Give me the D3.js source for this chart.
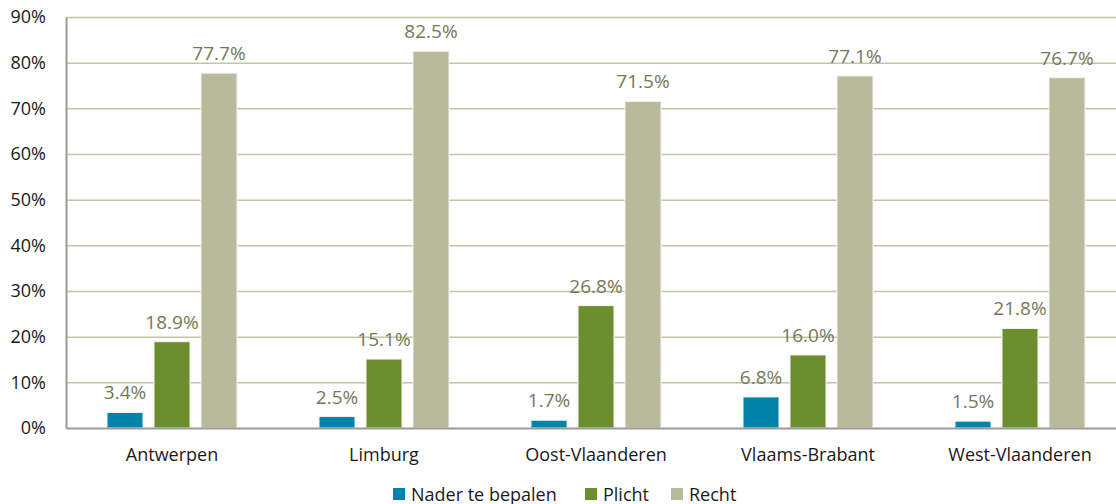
<!DOCTYPE html>
<html>
<head>
<meta charset="utf-8">
<script src="https://cdn.jsdelivr.net/npm/d3@7"></script>
<style>
  body { margin: 0; background: #fff; }
  text { font-family: "Open Sans", sans-serif; }
</style>
</head>
<body>
<script>
let width = 1116, height = 504;

// data
let categories = ["Antwerpen", "Limburg", "Oost-Vlaanderen", "Vlaams-Brabant", "West-Vlaanderen"];
let seriesNames = ["Nader te bepalen", "Plicht", "Recht"];
let naderValues = [3.4, 2.5, 1.7, 6.8, 1.5];
let plichtValues = [18.9, 15.1, 26.8, 16.0, 21.8];
let rechtValues = [77.7, 82.5, 71.5, 77.1, 76.7];
let yTicks = [0, 10, 20, 30, 40, 50, 60, 70, 80, 90];

let colors = ["#0083ab", "#6b8f2f", "#b9b99b"];
let seriesValues = [naderValues, plichtValues, rechtValues];

let rows = categories.map(function(c, i) {
  return {
    cat: c,
    vals: seriesNames.map(function(s, j) { return { key: s, idx: j, value: seriesValues[j][i] }; })
  };
});

let margin = { left: 66, top: 17, bottom: 76 };
let plotRight = 1126; // plot area runs past the picture's right edge

let svg = d3.select("body").append("svg")
    .attr("width", width)
    .attr("height", height);

let x0 = d3.scaleBand()
    .domain(categories)
    .range([margin.left, plotRight]);

let x1 = d3.scaleBand()
    .domain(seriesNames)
    .range([-65, 65])
    .paddingInner(11 / 47);

let y = d3.scaleLinear()
    .domain([0, 90])
    .range([height - margin.bottom, margin.top]);

// gridlines
svg.append("g")
  .selectAll("line")
  .data(yTicks.filter(function(d) { return d > 0; }))
  .enter().append("line")
    .attr("x1", margin.left)
    .attr("x2", plotRight)
    .attr("y1", function(d) { return y(d) + 0.5; })
    .attr("y2", function(d) { return y(d) + 0.5; })
    .attr("stroke", "#c4c4a6")
    .attr("stroke-width", 1.5);

// y axis
let yAxis = svg.append("g")
    .attr("transform", "translate(" + margin.left + ",0)")
    .call(d3.axisLeft(y).tickValues(yTicks).tickSize(0).tickPadding(20)
      .tickFormat(function(d) { return d + "%"; }));
yAxis.select(".domain").attr("stroke", "#9a9a9a").attr("stroke-width", 2);
yAxis.selectAll("text").attr("font-size", 18).attr("fill", "#1a1a1a")
    .attr("font-family", "Open Sans, sans-serif");

// bars
let groups = svg.append("g")
  .selectAll("g")
  .data(rows)
  .enter().append("g")
    .attr("transform", function(d) { return "translate(" + (x0(d.cat) + x0.bandwidth() / 2) + ",0)"; });

groups.selectAll("rect")
  .data(function(d) { return d.vals; })
  .enter().append("rect")
    .attr("x", function(d) { return x1(d.key); })
    .attr("width", x1.bandwidth())
    .attr("y", function(d) { return y(d.value); })
    .attr("height", function(d) { return y(0) - y(d.value); })
    .attr("fill", function(d) { return colors[d.idx]; })
    .attr("stroke", "#f4f4ee")
    .attr("stroke-width", 1);

groups.selectAll("text.lbl")
  .data(function(d) { return d.vals; })
  .enter().append("text")
    .attr("class", "lbl")
    .attr("x", function(d) { return x1(d.key) + x1.bandwidth() / 2; })
    .attr("y", function(d) { return y(d.value) - 13; })
    .attr("text-anchor", "middle")
    .attr("font-size", 19)
    .attr("fill", "#77775a")
    .text(function(d) { return d.value.toFixed(1) + "%"; });

// x axis
let xAxis = svg.append("g")
    .attr("transform", "translate(0," + y(0) + ")")
    .call(d3.axisBottom(x0).tickSize(0).tickPadding(20));
xAxis.select(".domain").attr("stroke", "#9a9a9a").attr("stroke-width", 2);
xAxis.selectAll("text").attr("font-size", 18).attr("fill", "#1a1a1a")
    .attr("font-family", "Open Sans, sans-serif");

// legend
let legendX = [393, 585, 671];
let legend = svg.append("g")
  .selectAll("g")
  .data(seriesNames)
  .enter().append("g")
    .attr("transform", function(d, i) { return "translate(" + legendX[i] + ",488)"; });

legend.append("rect")
    .attr("width", 12)
    .attr("height", 12)
    .attr("fill", function(d, i) { return colors[i]; });

legend.append("text")
    .attr("x", 18)
    .attr("y", 12.5)
    .attr("font-size", 18)
    .attr("fill", "#1a1a1a")
    .text(function(d) { return d; });
</script>
</body>
</html>
